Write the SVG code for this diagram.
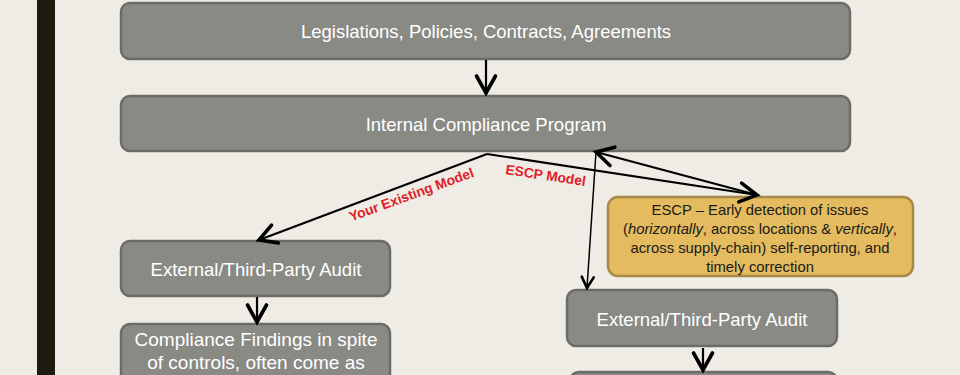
<svg xmlns="http://www.w3.org/2000/svg" width="960" height="375" viewBox="0 0 960 375">
<defs>
<style>
.box{fill:#8a8a85;stroke:#6c6c67;stroke-width:2.5}
.ybox{fill:#e4bb5e;stroke:#a8894a;stroke-width:2.5}
.wt{font-family:"Liberation Sans",Arial,sans-serif;font-size:18.5px;fill:#ffffff;text-anchor:middle}
.yt{font-family:"Liberation Sans",Arial,sans-serif;font-size:14.8px;fill:#1a1a1a;text-anchor:middle}
.rt{font-family:"Liberation Sans",Arial,sans-serif;font-size:13.8px;font-weight:bold;fill:#e0202a;text-anchor:middle}
.ln{fill:none;stroke:#000000;stroke-width:2.2}
.thin{fill:none;stroke:#000000;stroke-width:1.5}
</style>
<marker id="ah" markerUnits="userSpaceOnUse" markerWidth="40" markerHeight="40" viewBox="-20 -20 40 40" refX="0" refY="0" orient="auto">
<path d="M-17,-9.5 L0,0 L-17,9.5" fill="none" stroke="#000" stroke-width="3.6" stroke-linejoin="miter" stroke-linecap="round"/>
</marker>
<marker id="ahs" markerUnits="userSpaceOnUse" markerWidth="30" markerHeight="30" viewBox="-15 -15 30 30" refX="0" refY="0" orient="auto">
<path d="M-11,-6 L0,0 L-11,6" fill="none" stroke="#000" stroke-width="2.6" stroke-linecap="round"/>
</marker>
</defs>
<rect x="0" y="0" width="960" height="375" fill="#eeece4"/>
<rect x="37" y="0" width="18" height="375" fill="#1c1c0f"/>

<g id="legislations">
<rect class="box" x="121" y="3" width="729" height="56" rx="9"/>
<text class="wt" x="486" y="37.5">Legislations, Policies, Contracts, Agreements</text>
</g>
<g id="internal-compliance">
<rect class="box" x="121" y="96" width="729" height="55" rx="9"/>
<text class="wt" x="486" y="131">Internal Compliance Program</text>
</g>
<g id="escp-early">
<rect class="ybox" x="608" y="197" width="305" height="79" rx="10"/>
<text class="yt" x="760" y="215">ESCP – Early detection of issues</text>
<text class="yt" x="760" y="234">(<tspan font-style="italic">horizontally</tspan>, across locations &amp; <tspan font-style="italic">vertically</tspan>,</text>
<text class="yt" x="760" y="253">across supply-chain) self-reporting, and</text>
<text class="yt" x="760" y="272">timely correction</text>
</g>
<g id="audit-left">
<rect class="box" x="121" y="241" width="269" height="55" rx="9"/>
<text class="wt" x="256" y="275.5">External/Third-Party Audit</text>
</g>
<g id="findings-left">
<rect class="box" x="121" y="324" width="269" height="80" rx="9"/>
<text class="wt" x="256" y="346" style="font-size:19px">Compliance Findings in spite</text>
<text class="wt" x="256" y="369" style="font-size:19px">of controls, often come as</text>
</g>
<g id="audit-right">
<rect class="box" x="567" y="290" width="270" height="56" rx="9"/>
<text class="wt" x="702" y="326">External/Third-Party Audit</text>
</g>
<g id="bottom-right">
<rect class="box" x="570" y="372" width="267" height="40" rx="9"/>
</g>

<g id="connectors">
<line class="ln" x1="486" y1="60" x2="486" y2="93" marker-end="url(#ah)"/>
<polyline class="ln" points="487,154 259,240" marker-end="url(#ah)"/>
<polyline class="ln" points="487,154 757,195" marker-end="url(#ah)"/>
<line class="ln" x1="757" y1="195" x2="596" y2="152" marker-end="url(#ah)"/>
<line class="thin" x1="596" y1="152" x2="587" y2="288" marker-end="url(#ahs)"/>
<line class="ln" x1="257" y1="297" x2="257" y2="322" marker-end="url(#ah)"/>
<line class="ln" x1="703" y1="348" x2="703" y2="370" marker-end="url(#ah)"/>
<text class="rt" transform="translate(413,199) rotate(-20)">Your Existing Model</text>
<text class="rt" transform="translate(545,180) rotate(8.5)">ESCP Model</text>
</g>
</svg>
